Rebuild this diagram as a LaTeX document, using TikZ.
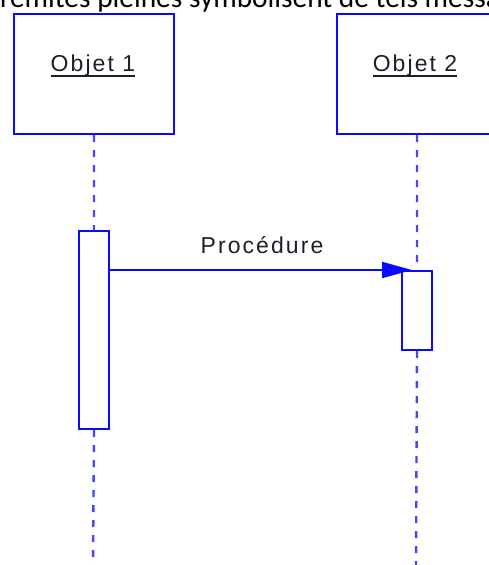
\documentclass[tikz,border=0pt]{standalone}
\usepackage{fontspec}
\setmainfont{Liberation Sans}
\newfontfamily\topfont{Carlito}
\usetikzlibrary{arrows.meta}
\definecolor{umlblue}{RGB}{10,10,255}
\definecolor{lifeblue}{RGB}{70,70,255}
\definecolor{txt}{RGB}{30,30,40}
\begin{document}
\begin{tikzpicture}[x=1bp,y=-1bp,
  objbox/.style={draw=umlblue, line width=2bp, inner sep=0pt, minimum width=160bp, minimum height=120bp, anchor=north west},
  actbox/.style={draw=umlblue, fill=white, line width=2bp, inner sep=0pt, minimum width=30bp, anchor=north west},
  lifeline/.style={draw=lifeblue, line width=2.4bp, dash pattern=on 7bp off 8bp},
  message/.style={draw=umlblue, line width=2bp, -{Triangle[length=30bp,width=16bp]}, shorten >=-11bp},
  lbl/.style={inner sep=0pt, text=txt, font=\fontsize{23bp}{27bp}\selectfont\addfontfeature{LetterSpace=9}},
  uline/.style={draw=txt, line width=1.6bp}]
\useasboundingbox (0,0) rectangle (489,565);
\clip (0,0) rectangle (489,565);
% cropped caption text at the top
\node[anchor=base west, inner sep=0pt, text=black, font=\topfont\fontsize{29.4bp}{35bp}\selectfont] (caption) at (0,8) {rémités pleines symbolisent de tels messa};
% objects
\node[objbox] (o1) at (13,13) {};
\node[objbox] (o2) at (336,13) {};
\node[lbl, anchor=base] (t1) at (93,72) {Objet 1};
\node[lbl, anchor=base] (t2) at (415,72) {Objet 2};
\draw[uline] ([yshift=-4bp]t1.base west) -- ([yshift=-4bp]t1.base east);
\draw[uline] ([yshift=-4bp]t2.base west) -- ([yshift=-4bp]t2.base east);
% activations
\node[actbox, minimum height=198bp] (a1) at (78,230) {};
\node[actbox, minimum height=79bp] (a2) at (401,270) {};
% lifelines
\coordinate (e1) at (93,565);
\coordinate (e2) at (416,565);
\draw[lifeline] (o1.south) -- (a1.north);
\draw[lifeline] (a1.south) -- (e1);
\draw[lifeline] (o2.south) -- (a2.north);
\draw[lifeline] (a2.south) -- (e2);
% message
\draw[message] (a1.east |- a2.north west) -- (a2.north west);
\node[lbl, anchor=base] (proc) at (262,253) {Procédure};
\end{tikzpicture}
\end{document}
